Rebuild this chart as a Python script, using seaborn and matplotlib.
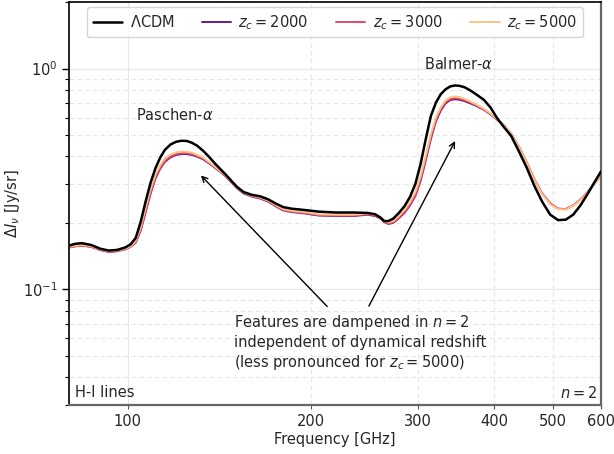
import numpy as np
import pandas as pd
import matplotlib
matplotlib.use("Agg")
import matplotlib.pyplot as plt
import matplotlib.ticker as mticker
import seaborn as sns

freq = [80, 82, 84, 87, 90, 93, 96, 99, 101, 103, 105, 107, 109, 111, 113, 115, 117.5, 120,
        122.5, 125, 127.5, 130, 133, 136, 139, 142, 145, 148, 151, 155, 160, 165, 170, 175,
        180, 186, 195, 206, 220, 235, 248, 255, 260, 264, 268, 273, 279, 285, 291, 297, 303,
        309, 315, 321, 327, 333, 339, 345, 351, 358, 366, 375, 385, 395, 405, 415, 427, 440,
        453, 466, 480, 495, 510, 525, 540, 555, 570, 585, 600]

lcdm = [0.158, 0.161, 0.162, 0.159, 0.153, 0.150, 0.151, 0.155, 0.160, 0.171, 0.203, 0.252,
        0.305, 0.354, 0.395, 0.428, 0.453, 0.466, 0.471, 0.470, 0.461, 0.447, 0.424, 0.398,
        0.372, 0.350, 0.330, 0.310, 0.292, 0.276, 0.268, 0.264, 0.256, 0.245, 0.236, 0.232,
        0.229, 0.225, 0.223, 0.223, 0.222, 0.219, 0.212, 0.204, 0.204, 0.209, 0.222, 0.238,
        0.262, 0.300, 0.370, 0.480, 0.610, 0.700, 0.765, 0.805, 0.830, 0.838, 0.835, 0.822,
        0.795, 0.760, 0.722, 0.665, 0.595, 0.545, 0.495, 0.420, 0.355, 0.295, 0.250, 0.218,
        0.206, 0.207, 0.218, 0.240, 0.270, 0.305, 0.342]

zc2000 = [0.155, 0.157, 0.158, 0.156, 0.151, 0.148, 0.149, 0.152, 0.156, 0.163, 0.185, 0.225,
          0.272, 0.318, 0.352, 0.378, 0.396, 0.406, 0.410, 0.410, 0.406, 0.399, 0.388, 0.372,
          0.356, 0.340, 0.324, 0.305, 0.288, 0.272, 0.263, 0.258, 0.250, 0.238, 0.228, 0.224,
          0.221, 0.216, 0.215, 0.215, 0.218, 0.215, 0.210, 0.202, 0.198, 0.200, 0.210, 0.222,
          0.240, 0.265, 0.310, 0.385, 0.480, 0.575, 0.645, 0.695, 0.720, 0.726, 0.722, 0.712,
          0.695, 0.675, 0.650, 0.620, 0.586, 0.555, 0.505, 0.440, 0.375, 0.315, 0.272, 0.245,
          0.232, 0.231, 0.240, 0.255, 0.275, 0.300, 0.328]

zc3000 = [0.155, 0.157, 0.158, 0.156, 0.151, 0.148, 0.149, 0.152, 0.156, 0.164, 0.187, 0.228,
          0.276, 0.322, 0.356, 0.382, 0.400, 0.410, 0.414, 0.414, 0.410, 0.402, 0.391, 0.374,
          0.358, 0.341, 0.325, 0.306, 0.289, 0.273, 0.264, 0.259, 0.251, 0.239, 0.229, 0.225,
          0.222, 0.217, 0.216, 0.216, 0.219, 0.216, 0.211, 0.203, 0.199, 0.201, 0.211, 0.224,
          0.242, 0.268, 0.315, 0.392, 0.490, 0.585, 0.655, 0.704, 0.729, 0.735, 0.731, 0.720,
          0.702, 0.680, 0.654, 0.623, 0.587, 0.555, 0.505, 0.440, 0.375, 0.315, 0.272, 0.245,
          0.232, 0.231, 0.240, 0.255, 0.275, 0.300, 0.328]

zc5000 = [0.156, 0.158, 0.159, 0.157, 0.152, 0.149, 0.150, 0.153, 0.157, 0.166, 0.192, 0.236,
          0.285, 0.331, 0.365, 0.391, 0.408, 0.417, 0.421, 0.420, 0.416, 0.407, 0.395, 0.377,
          0.360, 0.343, 0.327, 0.308, 0.291, 0.275, 0.266, 0.261, 0.253, 0.241, 0.231, 0.227,
          0.224, 0.219, 0.218, 0.218, 0.221, 0.218, 0.213, 0.205, 0.201, 0.204, 0.215, 0.229,
          0.248, 0.276, 0.326, 0.405, 0.505, 0.600, 0.668, 0.716, 0.741, 0.747, 0.742, 0.729,
          0.709, 0.685, 0.657, 0.625, 0.589, 0.556, 0.505, 0.439, 0.373, 0.313, 0.270, 0.243,
          0.231, 0.230, 0.239, 0.254, 0.274, 0.299, 0.327]

labels = [r"$\Lambda$CDM", r"$z_c = 2000$", r"$z_c = 3000$", r"$z_c = 5000$"]
colors = ["black", "#6a1c8c", "#e44a68", "#fec487"]
widths = [1.8, 1.4, 1.4, 1.4]
series = [lcdm, zc2000, zc3000, zc5000]

sns.set_style("white")
plt.rcParams["font.family"] = ["DejaVu Sans"]
plt.rcParams["mathtext.fontset"] = "dejavusans"

fig = plt.figure(figsize=(6.14, 4.54), dpi=100)
ax = fig.add_axes([69 / 614, 1 - 405 / 454, 532 / 614, 403 / 454])

for lab, col, lw, vals in zip(labels, colors, widths, series):
    df = pd.DataFrame({"freq": freq, "val": vals})
    sns.lineplot(data=df, x="freq", y="val", ax=ax, color=col, lw=lw, label=lab,
                 sort=False, zorder=3 if col == "black" else 2)

ax.set_xscale("log")
ax.set_yscale("log")
ax.set_xlim(80, 600)
ax.set_ylim(0.03, 2)

ax.xaxis.set_major_locator(mticker.FixedLocator([100]))
ax.xaxis.set_major_formatter(mticker.FixedFormatter(["100"]))
ax.xaxis.set_minor_locator(mticker.FixedLocator([200, 300, 400, 500, 600]))
ax.xaxis.set_minor_formatter(mticker.FixedFormatter(["200", "300", "400", "500", "600"]))

ax.grid(True, which="major", color="#e6e6e6", lw=0.8, ls="-")
ax.grid(True, which="minor", color="#e6e6e6", lw=0.8, ls=(0, (4, 3)))
ax.set_axisbelow(True)

ax.tick_params(axis="both", which="both", labelsize=10.5, direction="out")
ax.tick_params(axis="y", which="major", length=5, width=1, color="black", left=True, pad=3)
ax.tick_params(axis="y", which="minor", length=3, width=0.8, color="black", left=True)
ax.tick_params(axis="x", which="both", length=3, width=0.8, color="#555555", bottom=True, pad=3.5)

for s in ["left", "top"]:
    ax.spines[s].set_color("black")
    ax.spines[s].set_linewidth(1.2)
for s in ["right", "bottom"]:
    ax.spines[s].set_color("#666666")
    ax.spines[s].set_linewidth(1.6)

ax.set_xlabel("Frequency [GHz]", fontsize=10.5, labelpad=2)
ax.set_ylabel(r"$\Delta I_\nu$ [Jy/sr]", fontsize=10.5, labelpad=1)

leg = ax.legend(loc="upper center", ncol=4, fontsize=10.5, frameon=True, fancybox=True,
                edgecolor="#cccccc", columnspacing=1.9, handlelength=2.0,
                handletextpad=0.5, borderaxespad=0.35)

ax.text(119.5, 0.619, r"Paschen-$\alpha$", ha="center", va="center", fontsize=10.5)
ax.text(350, 1.053, r"Balmer-$\alpha$", ha="center", va="center", fontsize=10.5)

ax.text(149.5, 0.0576,
        "Features are dampened in $n = 2$\nindependent of dynamical redshift\n(less pronounced for $z_c = 5000$)",
        ha="left", va="center", fontsize=10.5)
ax.annotate("", xy=(130.9, 0.335), xytext=(214.3, 0.082),
            arrowprops=dict(arrowstyle="->", color="black", lw=1))
ax.annotate("", xy=(347, 0.482), xytext=(247.9, 0.082),
            arrowprops=dict(arrowstyle="->", color="black", lw=1))

ax.text(0.012, 0.03, "H-I lines", transform=ax.transAxes, ha="left", va="center", fontsize=10.5)
ax.text(0.992, 0.03, "$n = 2$", transform=ax.transAxes, ha="right", va="center", fontsize=10.5)

fig.savefig("out.png", dpi=100)
